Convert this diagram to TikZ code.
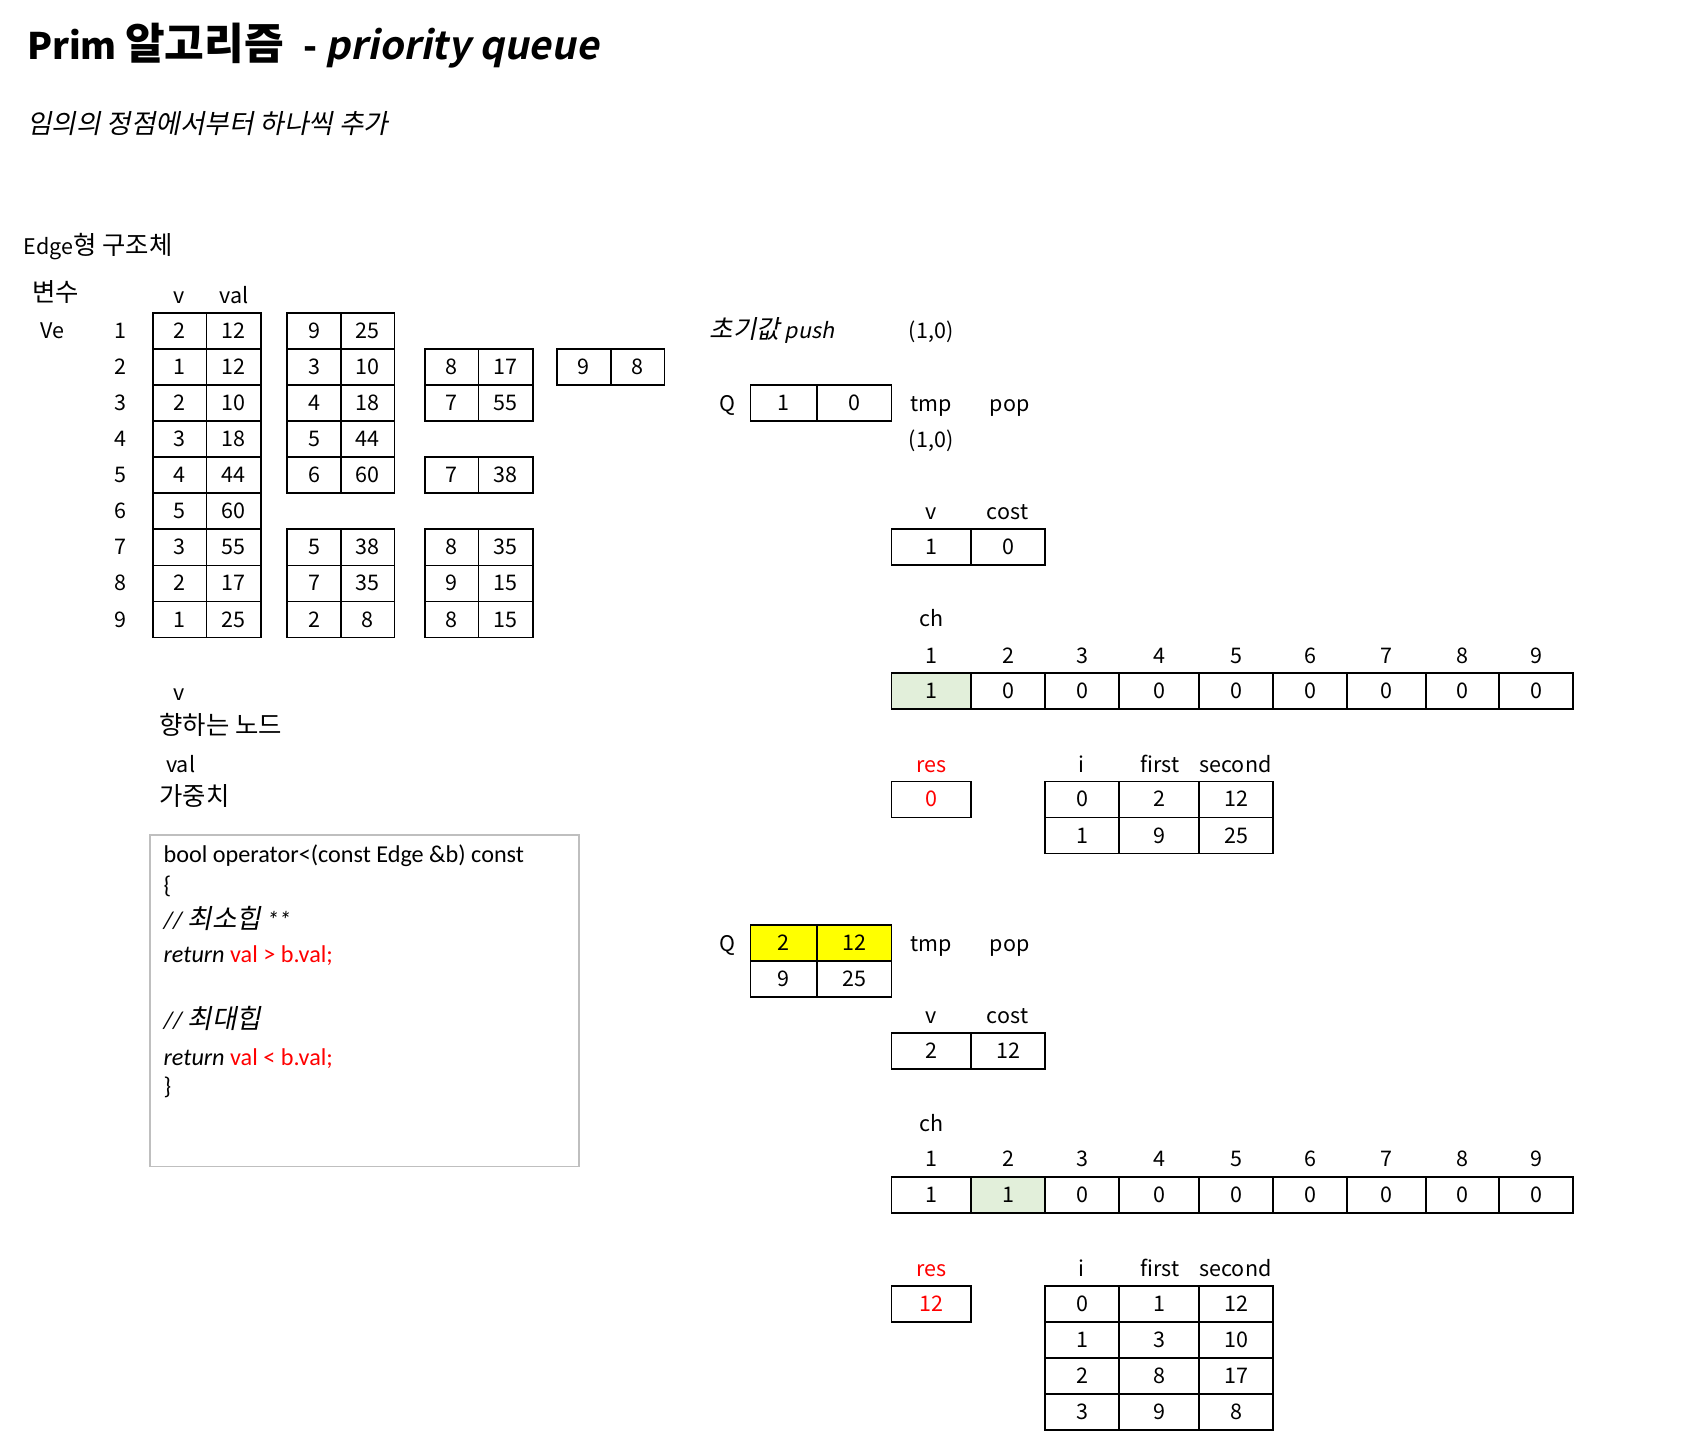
\documentclass[tikz,border=0pt]{standalone}
\usepackage{fontspec}
\setmainfont{Noto Sans CJK KR}[
  ItalicFont=Noto Sans CJK KR, ItalicFeatures={FakeSlant=0.2},
  BoldItalicFont=Noto Sans CJK KR Bold, BoldItalicFeatures={FakeSlant=0.2}]
\newfontfamily\krfont{Noto Sans CJK KR}[Scale=1.18,
  ItalicFont=Noto Sans CJK KR, ItalicFeatures={FakeSlant=0.2},
  BoldItalicFont=Noto Sans CJK KR Bold, BoldItalicFeatures={FakeSlant=0.2}]
\newfontfamily\codefont{Carlito}
\definecolor{chgreen}{HTML}{E2EFDA}
\definecolor{qyellow}{HTML}{FFFF00}
\definecolor{resred}{HTML}{FF0000}
\definecolor{codegray}{HTML}{BFBFBF}

\begin{document}
\begin{tikzpicture}[
  x=1pt, y=-1pt,
  txt/.style={font=\fontsize{20}{24}\selectfont, text height=15pt, text depth=1pt, inner sep=0pt},
  cell/.style={txt, draw, line width=1.6pt, minimum height=33.5pt},
  codeline/.style={font=\codefont\fontsize{22.5}{26}\selectfont, anchor=west, inner sep=0pt, text height=16pt, text depth=3pt}
]
\useasboundingbox (0,0) rectangle (1568,1347);

\node[anchor=base west, font=\fontsize{34}{40}\selectfont\bfseries, inner sep=0pt] (title) at (25,55)
  {Prim {\fontsize{34}{40}\selectfont\krfont 알고리즘}\hspace{10pt} - \textit{\fontsize{36}{40}\selectfont priority queue}};
\node[txt, anchor=west, font=\fontsize{21}{24}\selectfont\itshape] (sub) at (25,117)
  {\krfont 임의의 정점에서부터 하나씩 추가};
\node[txt, anchor=west] (edge) at (22,230) {Edge{\krfont 형 구조체}};
\node[txt, anchor=west] (var) at (30,273) {\krfont 변수};
\node[txt, anchor=west] (ve) at (37,308) {Ve};
\node[txt] (hv) at (167,275) {v};
\node[txt] (hval) at (218,275) {val};

% adjacency lists of each vertex
\foreach \r/\v/\w in {1/2/12,2/1/12,3/2/10,4/3/18,5/4/44,6/5/60,7/3/55,8/2/17,9/1/25} {
  \pgfmathsetmacro\yy{307.75+33.55*(\r-1)}
  \node[txt] (num\r) at (112,\yy) {\r};
  \node[cell, minimum width=50pt] (a\r v) at (167,\yy) {\v};
  \node[cell, minimum width=51pt] (a\r w) at (217.5,\yy) {\w};
}
\foreach \r/\v/\w in {1/9/25,2/3/10,3/4/18,4/5/44,5/6/60,7/5/38,8/7/35,9/2/8} {
  \pgfmathsetmacro\yy{307.75+33.55*(\r-1)}
  \node[cell, minimum width=50pt] (b\r v) at (292,\yy) {\v};
  \node[cell, minimum width=50pt] (b\r w) at (342,\yy) {\w};
}
\foreach \r/\v/\w in {2/8/17,3/7/55,5/7/38,7/8/35,8/9/15,9/8/15} {
  \pgfmathsetmacro\yy{307.75+33.55*(\r-1)}
  \node[cell, minimum width=50pt] (c\r v) at (420,\yy) {\v};
  \node[cell, minimum width=51pt] (c\r w) at (470.5,\yy) {\w};
}
\node[cell, minimum width=50pt] (d2v) at (543,341.3) {9};
\node[cell, minimum width=50pt] (d2w) at (593,341.3) {8};

\node[txt] (lv) at (167,644) {v};
\node[txt, anchor=west] (lvtxt) at (148,676) {\krfont 향하는 노드};
\node[txt] (lval) at (168,711) {val};
\node[txt, anchor=west] (lvaltxt) at (148,742) {\krfont 가중치};

% operator< box
\node[draw=codegray, line width=1.6pt, minimum width=399pt, minimum height=308pt, anchor=north west] (code) at (139,776) {};
\node[codeline] (c1) at (152,796) {bool operator<(const Edge \&b) const};
\node[codeline] (c2) at (152,824) {\{};
\node[codeline] (c3) at (152,857) {\itshape // {\fontsize{21}{24}\selectfont\krfont 최소힙} **};
\node[codeline] (c4) at (152,889) {\textit{return} \textcolor{resred}{val > b.val;}};
\node[codeline] (c5) at (152,950) {\itshape // {\fontsize{21}{24}\selectfont\krfont 최대힙}};
\node[codeline] (c6) at (152,984) {\textit{return} \textcolor{resred}{val < b.val;}};
\node[codeline] (c7) at (152,1011) {\}};

% step 1
\node[txt, anchor=west, font=\fontsize{20}{24}\selectfont\itshape] (init) at (660,308) {{\krfont 초기값} push};
\node[txt] (initval) at (866,308) {(1,0)};
\node[txt] (qA) at (677,376) {Q};
\node[cell, minimum width=62pt] (qA1v) at (729,375) {1};
\node[cell, minimum width=69pt] (qA1w) at (794.5,375) {0};
\node[txt] (tmpA) at (866,376) {tmp};
\node[txt] (popA) at (939,376) {pop};
\node[txt] (tmpvalA) at (866,409) {(1,0)};
\node[txt] (hvA) at (866,476) {v};
\node[txt] (hcostA) at (937,476) {cost};
\node[cell, minimum width=74pt] (vA) at (866,509) {1};
\node[cell, minimum width=69pt] (costA) at (937.5,509) {0};
\node[txt] (chA) at (866,576) {ch};
\node[txt, text=resred] (resA) at (866,711) {res};
\node[cell, minimum width=74pt, text=resred] (resvalA) at (866,743.5) {0};

% step 2
\node[txt] (qB) at (677,878) {Q};
\node[cell, minimum width=62pt, fill=qyellow] (qB1v) at (729,877) {2};
\node[cell, minimum width=69pt, fill=qyellow] (qB1w) at (794.5,877) {12};
\node[cell, minimum width=62pt] (qB2v) at (729,910.5) {9};
\node[cell, minimum width=69pt] (qB2w) at (794.5,910.5) {25};
\node[txt] (tmpB) at (866,878) {tmp};
\node[txt] (popB) at (939,878) {pop};
\node[txt] (hvB) at (866,945) {v};
\node[txt] (hcostB) at (937,945) {cost};
\node[cell, minimum width=74pt] (vB) at (866,977.5) {2};
\node[cell, minimum width=69pt] (costB) at (937.5,977.5) {12};
\node[txt] (chB) at (866,1045) {ch};
\node[txt, text=resred] (resB) at (866,1180) {res};
\node[cell, minimum width=74pt, text=resred] (resvalB) at (866,1212.5) {12};

% ch arrays
\foreach \i/\xa/\xb/\va/\fa/\vb/\fb in {1/829/903/1/chgreen/1/white, 2/903/972/0/white/1/chgreen,
    3/972/1041/0/white/0/white, 4/1041/1115/0/white/0/white, 5/1115/1184/0/white/0/white,
    6/1184/1253/0/white/0/white, 7/1253/1326/0/white/0/white, 8/1326/1394/0/white/0/white,
    9/1394/1463/0/white/0/white} {
  \node[txt] (idxA\i) at ({(\xa+\xb)/2},610) {\i};
  \node[cell, fill=\fa, minimum width={(\xb-\xa)*1pt}] (chA\i) at ({(\xa+\xb)/2},642.5) {\va};
  \node[txt] (idxB\i) at ({(\xa+\xb)/2},1078) {\i};
  \node[cell, fill=\fb, minimum width={(\xb-\xa)*1pt}] (chB\i) at ({(\xa+\xb)/2},1111.5) {\vb};
}

% adjacency of popped vertex
\foreach \s/\y in {A/711,B/1180} {
  \node[txt] (hi\s) at (1006,\y) {i};
  \node[txt] (hfirst\s) at (1079,\y) {first};
  \node[txt] (hsecond\s) at (1149,\y) {second};
}
\foreach \i/\f/\s in {0/2/12,1/9/25} {
  \pgfmathsetmacro\yy{743.5+33.5*\i}
  \node[cell, minimum width=69pt] (adjAi\i) at (1006.5,\yy) {\i};
  \node[cell, minimum width=74pt] (adjAf\i) at (1078,\yy) {\f};
  \node[cell, minimum width=69pt] (adjAs\i) at (1149.5,\yy) {\s};
}
\foreach \i/\f/\s in {0/1/12,1/3/10,2/8/17,3/9/8} {
  \pgfmathsetmacro\yy{1212.5+33.5*\i}
  \node[cell, minimum width=69pt] (adjBi\i) at (1006.5,\yy) {\i};
  \node[cell, minimum width=74pt] (adjBf\i) at (1078,\yy) {\f};
  \node[cell, minimum width=69pt] (adjBs\i) at (1149.5,\yy) {\s};
}
\end{tikzpicture}
\end{document}
